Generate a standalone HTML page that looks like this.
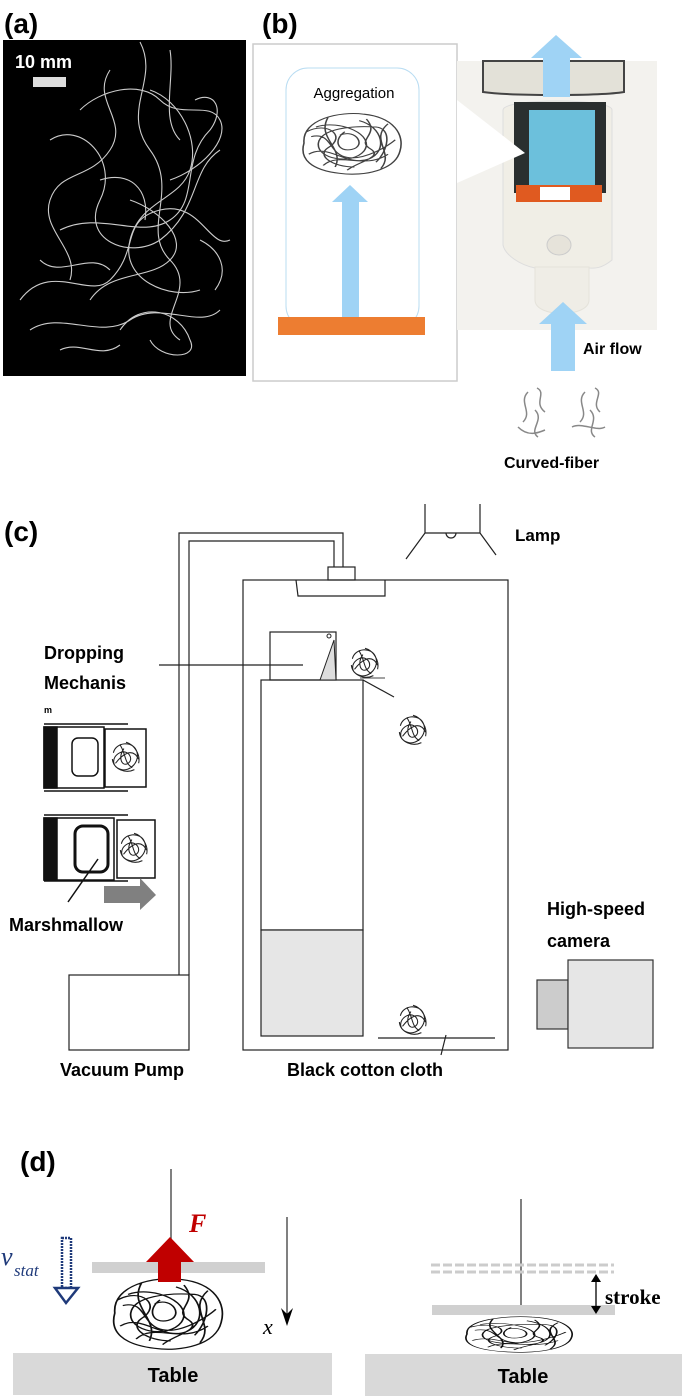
<!DOCTYPE html>
<html><head><meta charset="utf-8"><style>
body{margin:0;background:#fff;}
svg{display:block;font-family:"Liberation Sans",sans-serif;}
</style></head><body>
<svg width="685" height="1397" viewBox="0 0 685 1397" xmlns="http://www.w3.org/2000/svg">
<defs>
<g id="ball">
<path d="M-12,-4 C-10,-14 6,-16 10,-6 C14,4 4,14 -4,12 C-14,10 -14,0 -6,-4 C2,-8 8,2 2,6 C-4,10 -8,0 -2,-8 M-10,6 C-4,-2 6,-10 12,2 M-6,-12 C0,-4 -2,6 6,10 M-13,2 C-12,12 0,16 8,12 M0,-14 C8,-12 14,-2 12,6" fill="none" stroke="#222" stroke-width="1"/>
</g>
<g id="bigball">
<path d="M-40,0 C-42,-30 -10,-40 10,-36 C35,-32 44,-10 40,10 C36,34 10,42 -10,38 C-34,34 -44,20 -40,0 Z M-30,-20 C-10,-30 20,-10 10,10 C0,28 -30,20 -28,0 C-26,-18 0,-22 20,-20 C34,-18 30,10 20,24 M-36,14 C-20,0 -4,30 14,20 C30,10 26,-20 6,-28 M-20,-32 C-30,-6 -6,6 -14,30 M30,-24 C14,-4 36,12 24,32 M-10,-10 C4,-18 12,4 0,8 C-12,12 -16,-4 -6,-14 M-34,-8 C-16,-14 -20,14 -4,18 C10,22 30,4 36,-4 M-24,28 C-10,10 10,34 30,14 M-38,-14 C-20,-28 -4,-8 -20,6 C-30,16 -16,30 2,30 M12,-30 C24,-10 2,-4 16,8 C26,18 4,24 -4,34" fill="none" stroke="#111" stroke-width="1.3"/>
</g>
</defs>

<!-- (a) -->
<text x="4" y="33" font-size="28" font-weight="bold">(a)</text>
<rect x="3" y="40" width="243" height="336" fill="#000"/>
<text x="15" y="68" font-size="18" font-weight="bold" fill="#fff">10 mm</text>
<rect x="33" y="77" width="33" height="10" fill="#ddd"/>
<g fill="none" stroke="#ccc" stroke-width="1.1">
<path d="M140,42 C160,80 120,110 150,150 C180,190 140,230 170,260 C200,290 150,320 180,340"/>
<path d="M50,140 C80,120 120,160 100,200 C80,240 130,260 160,240 C200,210 190,170 220,150"/>
<path d="M20,300 C50,260 90,300 110,280 C140,250 120,220 160,210 C200,200 210,250 230,240"/>
<path d="M60,230 C100,210 140,240 170,220 C200,200 180,160 210,130 C225,110 215,90 195,100"/>
<path d="M110,70 C90,100 130,120 110,150 C90,180 60,170 50,200 C40,230 80,250 70,280"/>
<path d="M150,90 C180,100 200,140 190,170 C180,200 140,200 130,240 C120,280 170,300 200,290"/>
<path d="M30,330 C60,310 100,340 130,320 C160,300 200,330 220,310"/>
<path d="M80,110 C100,90 140,80 160,100 C180,120 210,100 220,120 C230,140 200,170 170,180"/>
<path d="M90,300 C110,270 150,280 170,260 C190,240 160,210 130,200"/>
<path d="M170,50 C175,80 160,120 180,140 M100,180 C130,170 150,190 145,220"/>
<path d="M120,330 C140,300 180,310 190,340 C200,360 160,360 150,340 M40,260 C60,280 90,250 110,270"/>
<path d="M200,240 C220,250 230,270 215,290 M60,350 C80,340 100,360 120,345"/>
</g>

<!-- (b) -->
<text x="262" y="33" font-size="28" font-weight="bold">(b)</text>
<rect x="253" y="44" width="204" height="337" fill="#fff" stroke="#ccc" stroke-width="1.5"/>
<rect x="286" y="68" width="133" height="260" rx="22" fill="none" stroke="#b8dcf2" stroke-width="1"/>
<text x="354" y="98" font-size="15" text-anchor="middle">Aggregation</text>
<g transform="translate(352,143) scale(1.2,0.8)"><use href="#bigball" opacity="0.8"/></g>
<polygon points="342,320 342,202 332,202 350,185 368,202 359,202 359,320" fill="#9fd3f5"/>
<rect x="278" y="317" width="147" height="18" fill="#ed7d31"/>
<!-- photo -->
<rect x="457" y="61" width="200" height="269" fill="#f3f2ee"/>
<path d="M483,61 L624,61 L624,92 C600,96 510,96 483,92 Z" fill="#e3e1d8" stroke="#444" stroke-width="2"/>
<path d="M503,110 C503,98 612,98 612,110 L612,260 C600,270 592,268 589,268 L535,268 C520,265 505,255 503,245 Z" fill="#f0eee6" stroke="#ddd"/>
<rect x="514" y="102" width="92" height="91" fill="#2a2f2f"/>
<rect x="529" y="110" width="66" height="83" fill="#6cc0dc"/>
<rect x="516" y="185" width="86" height="17" fill="#e05a20"/>
<rect x="540" y="187" width="30" height="13" fill="#fff"/>
<ellipse cx="559" cy="245" rx="12" ry="10" fill="#e6e3da" stroke="#ccc"/>
<path d="M535,267 L589,267 L589,300 C589,318 535,318 535,300 Z" fill="#efede6" stroke="#e4e2da"/>
<polygon points="457,100 457,183 525,153" fill="#fff"/>
<polygon points="543,97 543,58 531,58 556,35 582,58 570,58 570,97" fill="#9fd3f5"/>
<polygon points="551,371 551,324 539,324 563,302 587,324 575,324 575,371" fill="#9fd3f5"/>
<text x="583" y="354" font-size="16" font-weight="bold">Air flow</text>
<g fill="none" stroke="#888" stroke-width="1.5">
<path d="M528,392 C518,402 533,412 523,422 M537,388 C547,393 533,403 545,412 M518,427 C528,437 538,433 545,430 M535,410 C545,420 528,430 538,437"/>
<path d="M585,392 C575,402 590,412 580,422 M595,388 C605,393 590,403 600,412 M572,427 C582,422 597,432 605,427 M590,410 C600,420 585,430 595,437"/>
</g>
<text x="504" y="468" font-size="16" font-weight="bold">Curved-fiber</text>

<!-- (c) -->
<text x="4" y="541" font-size="28" font-weight="bold">(c)</text>
<g fill="none" stroke="#222" stroke-width="1.2">
<path d="M179,975 L179,533 L343,533 L343,567"/>
<path d="M189,975 L189,541 L334,541 L334,567"/>
<rect x="328" y="567" width="27" height="13"/>
<rect x="243" y="580" width="265" height="470"/>
<path d="M296,580 L298,596 L385,596 L385,580"/>
<path d="M425,504 L425,533 L480,533 L480,504 M425,533 L406,559 M480,533 L496,555"/>
<path d="M446,533 A5,5 0 0 0 456,533"/>
<rect x="270" y="632" width="66" height="48"/>
<rect x="261" y="680" width="102" height="250"/>
<path d="M363,680 L394,697"/>
<path d="M159,665 L303,665"/>
<path d="M378,1038 L495,1038 M446,1035 L441,1055"/>
<rect x="69" y="975" width="120" height="75"/>
</g>
<polygon points="320,680 336,680 334,640" fill="#ddd" stroke="#222"/>
<circle cx="329" cy="636" r="2" fill="none" stroke="#222"/>
<rect x="261" y="930" width="102" height="106" fill="#e6e6e6" stroke="#222" stroke-width="1.2"/>
<line x1="360" y1="678" x2="385" y2="678" stroke="#444"/>
<g transform="translate(365,663) scale(1.05)"><use href="#ball"/></g>
<g transform="translate(413,730) scale(1.05)"><use href="#ball"/></g>
<g transform="translate(413,1020) scale(1.05)"><use href="#ball"/></g>
<text x="515" y="541" font-size="17" font-weight="bold">Lamp</text>
<text x="44" y="659" font-size="18" font-weight="bold">Dropping</text>
<text x="44" y="689" font-size="18" font-weight="bold">Mechanis</text>
<text x="44" y="713" font-size="9" font-weight="bold">m</text>
<!-- mechanism 1 -->
<g stroke="#111" fill="none" stroke-width="1.5">
<rect x="44" y="727" width="60" height="61"/>
<rect x="44" y="727" width="13" height="61" fill="#111"/>
<rect x="72" y="738" width="26" height="38" rx="6"/>
<rect x="105" y="729" width="41" height="58"/>
<path d="M44,724 L128,724 M44,791 L128,791"/>
</g>
<g transform="translate(126,757) scale(1.05)"><use href="#ball"/></g>
<!-- mechanism 2 -->
<g stroke="#111" fill="none" stroke-width="1.5">
<rect x="44" y="818" width="70" height="62"/>
<rect x="44" y="818" width="13" height="62" fill="#111"/>
<rect x="75" y="826" width="33" height="46" rx="8" stroke-width="3"/>
<rect x="117" y="820" width="38" height="58"/>
<path d="M44,815 L128,815 M44,881 L128,881 M98,859 L68,902"/>
</g>
<g transform="translate(134,848) scale(1.05)"><use href="#ball"/></g>
<polygon points="104,886 140,886 140,878 156,895 140,910 140,903 104,903" fill="#808080"/>
<text x="9" y="931" font-size="18" font-weight="bold">Marshmallow</text>
<text x="547" y="915" font-size="18" font-weight="bold">High-speed</text>
<text x="547" y="947" font-size="18" font-weight="bold">camera</text>
<rect x="537" y="980" width="31" height="49" fill="#ccc" stroke="#333" stroke-width="1.2"/>
<rect x="568" y="960" width="85" height="88" fill="#e6e6e6" stroke="#333" stroke-width="1.2"/>
<text x="60" y="1076" font-size="18" font-weight="bold">Vacuum Pump</text>
<text x="287" y="1076" font-size="18" font-weight="bold">Black cotton cloth</text>

<!-- (d) -->
<text x="20" y="1171" font-size="28" font-weight="bold">(d)</text>
<rect x="13" y="1353" width="319" height="42" fill="#d9d9d9"/>
<rect x="365" y="1354" width="317" height="42" fill="#d9d9d9"/>
<text x="173" y="1382" font-size="20" font-weight="bold" text-anchor="middle">Table</text>
<text x="523" y="1383" font-size="20" font-weight="bold" text-anchor="middle">Table</text>
<line x1="171" y1="1169" x2="171" y2="1250" stroke="#555" stroke-width="1.5"/>
<rect x="92" y="1262" width="173" height="11" fill="#d0d0d0"/>
<g transform="translate(168,1313) scale(1.33,0.93)"><use href="#bigball"/></g>
<polygon points="158,1282 158,1262 146,1262 170,1237 194,1262 181,1262 181,1282" fill="#c00000"/>
<text x="189" y="1232" font-size="26" font-weight="bold" font-style="italic" fill="#c00000" font-family="Liberation Serif,serif">F</text>
<line x1="287" y1="1217" x2="287" y2="1322" stroke="#000" stroke-width="1"/>
<polygon points="281,1308 287,1326 293,1308 287,1314" fill="#000"/>
<text x="263" y="1334" font-size="22" font-style="italic" font-family="Liberation Serif,serif">x</text>
<rect x="62" y="1238" width="9" height="50" fill="#fff" stroke="#1f3a7a" stroke-width="2.5" stroke-dasharray="2,1"/>
<polygon points="55,1288 78,1288 66,1303" fill="#fff" stroke="#1f3a7a" stroke-width="2.5"/>
<text x="1" y="1265" font-size="26" font-style="italic" fill="#1f3a7a" font-family="Liberation Serif,serif">v</text>
<text x="14" y="1276" font-size="17" font-style="italic" fill="#1f3a7a" font-family="Liberation Serif,serif">stat</text>
<line x1="521" y1="1199" x2="521" y2="1305" stroke="#555" stroke-width="1.5"/>
<line x1="431" y1="1265" x2="614" y2="1265" stroke="#ccc" stroke-width="3" stroke-dasharray="9,3"/>
<line x1="431" y1="1272" x2="614" y2="1272" stroke="#ccc" stroke-width="3" stroke-dasharray="9,3"/>
<rect x="432" y="1305" width="183" height="10" fill="#d0d0d0"/>
<g transform="translate(519,1334) scale(1.3,0.47)"><use href="#bigball"/></g>
<line x1="596" y1="1280" x2="596" y2="1308" stroke="#000" stroke-width="1.3"/>
<polygon points="591,1282 596,1274 601,1282" fill="#000"/>
<polygon points="591,1306 596,1314 601,1306" fill="#000"/>
<text x="605" y="1304" font-size="21" font-weight="bold" font-family="Liberation Serif,serif">stroke</text>
</svg>
</body></html>
